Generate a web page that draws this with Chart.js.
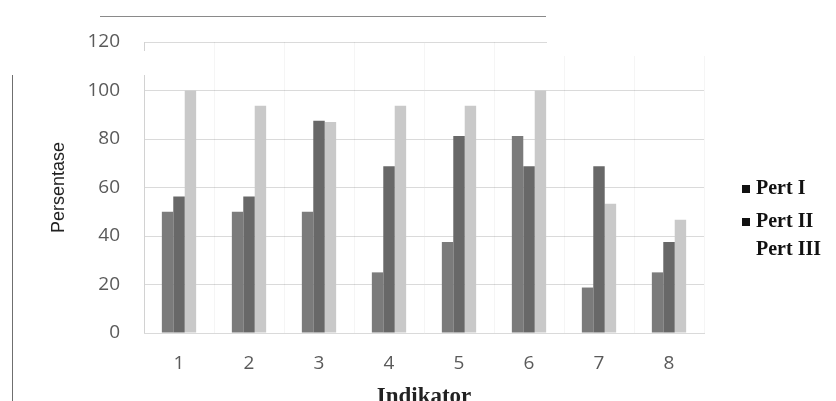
<!DOCTYPE html>
<html>
<head>
<meta charset="utf-8">
<script src="https://cdn.jsdelivr.net/npm/chart.js@4/dist/chart.umd.min.js"></script>
<style>
  html, body { margin: 0; padding: 0; background: #fff; }
  #wrap { width: 836px; height: 401px; }
</style>
</head>
<body>
<div id="wrap"><canvas id="bars"></canvas></div>
<script>
const ctx = document.getElementById('bars').getContext('2d');

let indikator = ['1', '2', '3', '4', '5', '6', '7', '8'];
let pertI = [50, 50, 50, 25, 37.5, 81.25, 18.75, 25];
let pertII = [56.25, 56.25, 87.5, 68.75, 81.25, 68.75, 68.75, 37.5];
let pertIII = [100, 93.75, 87, 93.75, 93.75, 100, 53.3, 46.7];
let yTicks = [0, 20, 40, 60, 80, 100, 120];

let barColor = ['#7b7b7b', '#686868', '#c9c9c9'];
let legendMark = ['#111', '#111', null];

// legend drawn by hand, plus the scan leftovers (frame lines, cropped top)
const sideLegend = {
    id: 'sideLegend',
    afterDraw(chart) {
        const c = chart.ctx;
        c.save();
        // white patches where the scan is cut
        c.fillStyle = '#fff';
        c.fillRect(547, 0, 289, 56);
        c.fillRect(139, 51, 10, 24);
        // top line and left frame
        c.strokeStyle = '#8a8a8a';
        c.lineWidth = 1;
        c.beginPath();
        c.moveTo(100, 16.5);
        c.lineTo(546, 16.5);
        c.stroke();
        c.strokeStyle = '#6f6f6f';
        c.beginPath();
        c.moveTo(12.5, 75);
        c.lineTo(12.5, 401);
        c.stroke();

        const ys = [189, 222, 250];
        c.font = 'bold 20px "Liberation Serif", "Times New Roman", serif';
        c.textBaseline = 'middle';
        c.textAlign = 'left';
        chart.data.datasets.forEach((ds, i) => {
            if (legendMark[i]) {
                c.fillStyle = legendMark[i];
                c.fillRect(742, ys[i] - 4, 8, 8);
            }
            c.fillStyle = '#111';
            c.fillText(ds.label, 756, ys[i]);
        });
        c.restore();
    }
};

new Chart(ctx, {
    type: 'bar',
    data: {
        labels: indikator,
        datasets: [
            { label: 'Pert I', data: pertI, backgroundColor: barColor[0] },
            { label: 'Pert II', data: pertII, backgroundColor: barColor[1] },
            { label: 'Pert III', data: pertIII, backgroundColor: barColor[2] }
        ]
    },
    options: {
        animation: false,
        responsive: true,
        maintainAspectRatio: false,
        layout: {
            padding: { left: 45, right: 132, top: 42, bottom: 0 }
        },
        datasets: {
            bar: { categoryPercentage: 0.49, barPercentage: 1 }
        },
        scales: {
            y: {
                min: 0,
                max: 120,
                afterFit(scale) { scale.width = 99; },
                afterBuildTicks(scale) { scale.ticks = yTicks.map(v => ({ value: v })); },
                grid: { color: '#dadada', drawTicks: false },
                border: { color: '#d2d2d2' },
                ticks: {
                    padding: 24,
                    color: '#5a5a5a',
                    font: { family: '"Open Sans", "DejaVu Sans", sans-serif', size: 19 }
                },
                title: {
                    display: true,
                    text: 'Persentase',
                    color: '#222',
                    padding: { top: 3, bottom: 4 },
                    font: { family: '"Liberation Sans", Arial, sans-serif', size: 18 }
                }
            },
            x: {
                afterFit(scale) { scale.height = 68; },
                grid: { color: 'rgba(0,0,0,0.04)', drawTicks: false },
                border: { color: '#dadada' },
                ticks: {
                    padding: 19,
                    color: '#5a5a5a',
                    font: { family: '"Open Sans", "DejaVu Sans", sans-serif', size: 19 }
                },
                title: {
                    display: true,
                    text: 'Indikator',
                    color: '#222',
                    padding: { top: 0, bottom: -10 },
                    font: { family: '"Liberation Serif", "Times New Roman", serif', size: 23, weight: 'bold' }
                }
            }
        },
        plugins: {
            legend: { display: false },
            tooltip: { enabled: false }
        }
    },
    plugins: [sideLegend]
});
</script>
</body>
</html>
